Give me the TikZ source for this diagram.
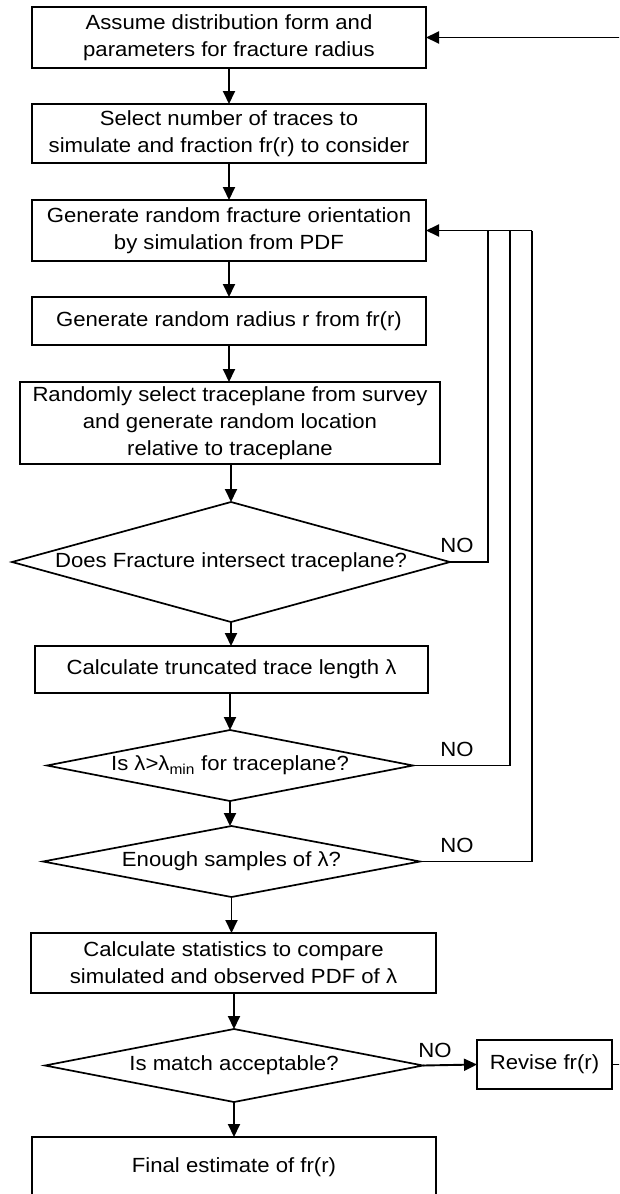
\documentclass[tikz,border=0pt]{standalone}
\usepackage{fontspec}
\setmainfont{Liberation Sans}[FakeStretch=1.08]
\usetikzlibrary{arrows.meta,shapes.geometric}
\tikzset{
  stepbox/.style={draw, line width=1.7pt, rectangle, align=center, inner sep=0pt, outer sep=0pt},
  decision/.style={draw, line width=1.7pt, diamond, inner sep=0pt, outer sep=0pt},
  flow/.style={line width=1.9pt, -{Triangle[length=13pt,width=12pt]}},
  plain/.style={line width=1.9pt},
  nolabel/.style={inner sep=0pt}
}
\begin{document}
\begin{tikzpicture}[x=1pt,y=-1pt,font=\fontsize{20.5}{27}\selectfont]
\useasboundingbox (0,0) rectangle (619,1194);
\fill[white] (0,0) rectangle (619,1194);
\clip (0,0) rectangle (619,1194);
\node[stepbox, minimum width=394pt, minimum height=61pt] (b1) at (229,37.5) {Assume distribution form and\\parameters for fracture radius};
\node[stepbox, minimum width=394pt, minimum height=59pt] (b2) at (229,133.5) {Select number of traces to\\simulate and fraction fr(r) to consider};
\node[stepbox, minimum width=394pt, minimum height=61pt] (b3) at (229,230.5) {Generate random fracture orientation\\by simulation from PDF};
\node[stepbox, minimum width=394pt, minimum height=48pt] (b4) at (229,321) {Generate random radius r from fr(r)};
\node[stepbox, minimum width=420pt, minimum height=82pt] (b5) at (230,423) {Randomly select traceplane from survey\\and generate random location\\relative to traceplane};
\node[decision, minimum width=438pt, minimum height=120pt, label=center:{Does Fracture intersect traceplane?}] (d1) at (231,562) {};
\node[stepbox, minimum width=393pt, minimum height=47pt] (b6) at (231.5,669.5) {Calculate truncated trace length λ};
\node[decision, minimum width=366pt, minimum height=71pt, label=center:{Is λ>λ\textsubscript{min} for traceplane?}] (d2) at (230,765.5) {};
\node[decision, minimum width=377pt, minimum height=71pt, label=center:{Enough samples of λ?}] (d3) at (231.5,861.5) {};
\node[stepbox, minimum width=405pt, minimum height=60pt] (b7) at (233.5,963) {Calculate statistics to compare\\simulated and observed PDF of λ};
\node[decision, minimum width=378pt, minimum height=73pt, label=center:{Is match acceptable?}] (d4) at (234,1065.5) {};
\node[stepbox, minimum width=404pt, minimum height=60pt] (b8) at (234,1167) {Final estimate of fr(r)};
\node[stepbox, minimum width=135pt, minimum height=49pt] (rev) at (544.5,1064.5) {Revise fr(r)};

\draw[flow] (b1.south) -- (b1.south |- b2.north);
\draw[flow] (b2.south) -- (b2.south |- b3.north);
\draw[flow] (b3.south) -- (b3.south |- b4.north);
\draw[flow] (b4.south) -- (b4.south |- b5.north);
\draw[flow] (b5.south -| d1.north) -- (d1.north);
\draw[flow] (d1.south) -- (d1.south |- b6.north);
\draw[flow] (b6.south -| d2.north) -- (d2.north);
\draw[flow] (d2.south) -- (d2.south |- d3.north);
\draw[flow] (d3.south) -- (d3.south |- b7.north);
\draw[flow] (b7.south -| d4.north) -- (d4.north);
\draw[flow] (d4.south) -- (d4.south |- b8.north);
\draw[flow] (d4.east) -- (rev.west);

\coordinate (j1) at (488,230.5);
\coordinate (j2) at (510,230.5);
\coordinate (j3) at (532,230.5);
\draw[plain] (d1.east) -| (j1);
\draw[plain] (d2.east) -| (j2);
\draw[plain] (d3.east) -| (j3);
\draw[flow] (j3) -- (b3.east);

\coordinate (rloop) at (650,1064.5);
\coordinate (tloop) at (650,37.5);
\draw[flow] (rev.east) -- (rloop) -- (tloop) -- (b1.east);

\node[nolabel] at (457,545) {NO};
\node[nolabel] at (457,749) {NO};
\node[nolabel] at (457,845) {NO};
\node[nolabel] at (435,1050) {NO};
\end{tikzpicture}
\end{document}
